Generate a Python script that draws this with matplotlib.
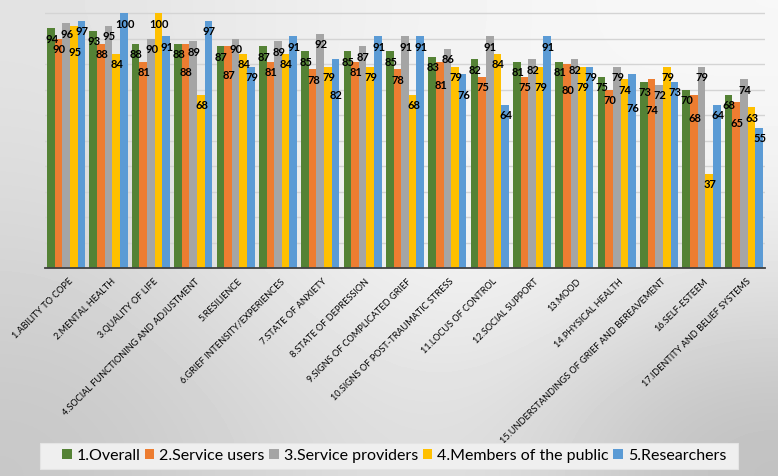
import numpy as np
import matplotlib
matplotlib.use("Agg")
import matplotlib.pyplot as plt
from matplotlib.patches import Patch, Rectangle

# ---------- DATA ----------
categories = [
    "1.ABILITY TO COPE", "2.MENTAL HEALTH", "3.QUALITY OF LIFE",
    "4.SOCIAL FUNCTIONING AND ADJUSTMENT", "5.RESILIENCE",
    "6.GRIEF INTENSITY/EXPERIENCES", "7.STATE OF ANXIETY",
    "8.STATE OF DEPRESSION", "9.SIGNS OF COMPLICATED GRIEF",
    "10.SIGNS OF POST-TRAUMATIC STRESS", "11.LOCUS OF CONTROL",
    "12.SOCIAL SUPPORT", "13.MOOD", "14.PHYSICAL HEALTH",
    "15.UNDERSTANDINGS OF GRIEF AND BEREAVEMENT", "16.SELF-ESTEEM",
    "17.IDENTITY AND BELIEF SYSTEMS",
]
series_names = ["1.Overall", "2.Service users", "3.Service providers",
                "4.Members of the public", "5.Researchers"]
overall = [94, 93, 88, 88, 87, 87, 85, 85, 85, 83, 82, 81, 81, 75, 73, 70, 68]
service_users = [90, 88, 81, 88, 87, 81, 78, 81, 78, 81, 75, 75, 80, 70, 74, 68, 65]
service_providers = [96, 95, 90, 89, 90, 89, 92, 87, 91, 86, 91, 82, 82, 79, 72, 79, 74]
public = [95, 84, 100, 68, 84, 84, 79, 79, 68, 79, 84, 79, 79, 74, 79, 37, 63]
researchers = [97, 100, 91, 97, 79, 91, 82, 91, 91, 76, 64, 91, 79, 76, 73, 64, 55]
colors = ["#548235", "#ED7D31", "#A5A5A5", "#FFC000", "#5B9BD5"]
# --------------------------

all_series = [overall, service_users, service_providers, public, researchers]

fig = plt.figure(figsize=(7.78, 4.76), dpi=100)

# background gradient
bg = fig.add_axes([0, 0, 1, 1], zorder=-10)
grid_vals = np.array([
    [0.89, 0.93, 0.96, 0.97],
    [0.86, 0.94, 0.97, 0.95],
    [0.82, 0.90, 0.96, 0.87],
    [0.78, 0.85, 0.89, 0.75],
])
bg.imshow(grid_vals, cmap="gray", vmin=0, vmax=1, aspect="auto",
          interpolation="bicubic", extent=[0, 1, 0, 1])
bg.set_axis_off()

ax = fig.add_axes([45 / 778, 1 - 268 / 476, 720 / 778, 265 / 476])
ax.patch.set_alpha(0)

x = np.arange(len(categories))
w = 0.18
label_drop = 4.3   # about 11 px below the bar top
min_gap = 3.6      # labels closer than this get pushed down
push = 7.0

for i, (vals, c) in enumerate(zip(all_series, colors)):
    ax.bar(x - 2 * w + i * w, vals, width=w, color=c, zorder=3)

# value labels, staggered inside each group so they don't collide
for j in range(len(categories)):
    prev_y = None
    for i, vals in enumerate(all_series):
        v = vals[j]
        y = v - label_drop
        if prev_y is not None and abs(y - prev_y) < min_gap:
            y = prev_y - push
        prev_y = y
        ax.text(x[j] - 2 * w + i * w + 0.02, y, str(v), ha="center", va="center",
                fontsize=8, fontweight="bold", family="Lato", color="black",
                zorder=5)

ax.set_xlim(-0.5, len(categories) - 0.5)
ax.set_ylim(0, 104)
ax.set_yticks(np.arange(10, 101, 10))
ax.yaxis.grid(True, color="#d4d4d4", lw=1, zorder=0)
ax.tick_params(axis="y", left=False, labelleft=False)
ax.tick_params(axis="x", bottom=False, pad=3)
for s in ["top", "right", "left"]:
    ax.spines[s].set_visible(False)
ax.spines["bottom"].set_color("#404040")
ax.spines["bottom"].set_linewidth(1.3)
ax.spines["bottom"].set_zorder(4)

ax.set_xticks(x + 0.05)
ax.set_xticklabels(categories, rotation=45, ha="right", va="top",
                   rotation_mode="anchor", fontsize=6.6, family="Lato")

# legend box
fig.patches.append(Rectangle((40 / 778, 7 / 476), 698 / 778, 26 / 476,
                             transform=fig.transFigure, facecolor="#efefef",
                             edgecolor="#e4e4e4", lw=0.8, zorder=1))
handles = [Patch(facecolor=c, label=n) for c, n in zip(colors, series_names)]
leg = fig.legend(handles=handles, loc="center left", ncol=5,
                 bbox_to_anchor=(58 / 778, 7 / 476, 672 / 778, 26 / 476),
                 mode="expand", frameon=False,
                 prop={"family": "Lato", "size": 11.5},
                 handlelength=0.6, handleheight=0.6, handletextpad=0.3,
                 borderaxespad=0, borderpad=0.25)

fig.savefig("out.png", dpi=100)
